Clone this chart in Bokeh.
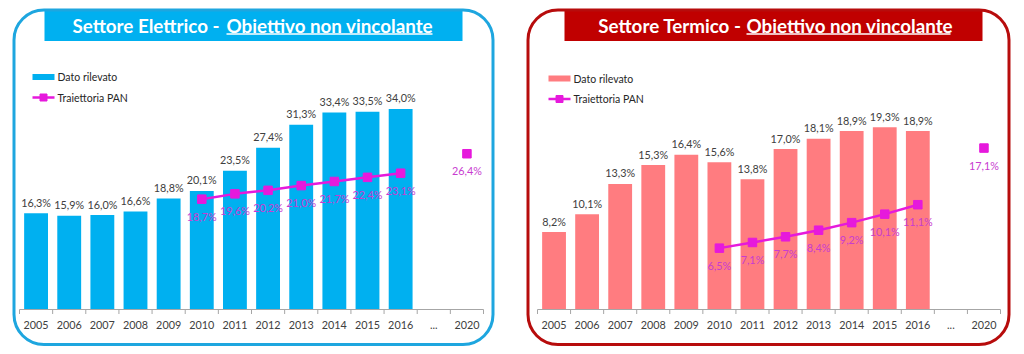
from bokeh.plotting import figure
from bokeh.models import Range1d, BoxAnnotation
from bokeh.layouts import row
from bokeh.embed import file_html
from bokeh.resources import INLINE
from bokeh.core.properties import value

# ---------------- data ----------------
categories = ["2005", "2006", "2007", "2008", "2009", "2010", "2011", "2012",
              "2013", "2014", "2015", "2016", "...", "2020"]
observed_years = categories[:12]
pan_years = ["2010", "2011", "2012", "2013", "2014", "2015", "2016"]
target_year = "2020"

elettrico_rilevato = [16.3, 15.9, 16.0, 16.6, 18.8, 20.1, 23.5, 27.4, 31.3, 33.4, 33.5, 34.0]
elettrico_pan = [18.7, 19.6, 20.2, 21.0, 21.7, 22.4, 23.1]
elettrico_target = 26.4

termico_rilevato = [8.2, 10.1, 13.3, 15.3, 16.4, 15.6, 13.8, 17.0, 18.1, 18.9, 19.3, 18.9]
termico_pan = [6.5, 7.1, 7.7, 8.4, 9.2, 10.1, 11.1]
termico_target = 17.1

legend_labels = ["Dato rilevato", "Traiettoria PAN"]

# ---------------- layout constants ----------------
W, H = 512, 354
BASE_PX, TOP_PX = 309, 73
FONT = value("Lato")
LABEL_COLOR = "#404040"
LINE_COLOR = "#e619dc"
PAN_LABEL_COLOR = "#c83cd0"


def fmt(v):
    return ("%.1f" % v).replace(".", ",") + "%"


def make_panel(title_a, title_b, rilevato, pan, target, ymax, cfg):
    cw = (cfg["axis_r"] - cfg["axis_l"]) / len(categories)
    xs = -cfg["axis_l"] / cw - 0.5
    ppu = (BASE_PX - TOP_PX) / ymax
    ys = -(H - BASE_PX) / ppu
    p = figure(width=W, height=H,
               x_range=Range1d(xs, xs + W / cw),
               y_range=Range1d(ys, ys + H / ppu),
               x_axis_type=None, y_axis_type=None,
               toolbar_location=None, output_backend="svg",
               min_border=0, min_border_left=0, min_border_right=0,
               min_border_top=0, min_border_bottom=0)
    p.extra_x_ranges = {"px": Range1d(0, W)}
    p.extra_y_ranges = {"px": Range1d(H, 0)}
    p.xgrid.visible = False
    p.ygrid.visible = False
    p.outline_line_color = None
    p.background_fill_color = "white"
    p.border_fill_color = "white"

    idx = {c: i for i, c in enumerate(categories)}

    # rounded frame
    p.add_layout(BoxAnnotation(left=cfg["bl"], right=cfg["br"], top=9.5, bottom=344,
                               x_range_name="px", y_range_name="px",
                               fill_color=None, fill_alpha=0,
                               line_color=cfg["border"], line_alpha=1.0, line_width=3,
                               border_radius=30))
    # title box
    p.quad(left=[cfg["tb_l"]], right=[cfg["tb_r"]], top=[9], bottom=[40.5],
           x_range_name="px", y_range_name="px",
           fill_color=cfg["title_fill"], line_color=None)
    p.text(x=[cfg["t_end"]], y=[25], text=[title_a], x_range_name="px", y_range_name="px",
           text_font=FONT, text_font_size="18.8px", text_font_style="bold",
           text_color="white", text_align="right", text_baseline="middle")
    p.text(x=[cfg["t_start"]], y=[25], text=[title_b], x_range_name="px", y_range_name="px",
           text_font=FONT, text_font_size="18.8px", text_font_style="bold",
           text_color="white", text_align="left", text_baseline="middle")
    p.segment(x0=[cfg["t_start"]], x1=[cfg["u_end"]], y0=[33.5], y1=[33.5],
              x_range_name="px", y_range_name="px", line_color="white", line_width=1.5)

    # legend
    lx, ly = cfg["leg_x"], cfg["leg_y"]
    p.quad(left=[lx], right=[lx + 22], top=[ly - 3], bottom=[ly + 3],
           x_range_name="px", y_range_name="px", fill_color=cfg["bar"], line_color=None)
    p.segment(x0=[lx], x1=[lx + 22], y0=[ly + 20.5], y1=[ly + 20.5],
              x_range_name="px", y_range_name="px", line_color=LINE_COLOR, line_width=2.5)
    p.scatter(x=[lx + 11], y=[ly + 20.5], marker="square", size=7,
              x_range_name="px", y_range_name="px", fill_color=LINE_COLOR, line_color=LINE_COLOR)
    p.text(x=[lx + 25, lx + 25], y=[ly, ly + 20.5], text=legend_labels,
           x_range_name="px", y_range_name="px",
           text_font=FONT, text_font_size="10.5px", text_color="#262626",
           text_align="left", text_baseline="middle")

    # bars
    bx = [idx[c] for c in observed_years]
    p.vbar(x=bx, top=rilevato, bottom=0, width=0.72, fill_color=cfg["bar"], line_color=None)
    p.text(x=bx, y=rilevato, text=[fmt(v) for v in rilevato], y_offset=-11,
           text_font=FONT, text_font_size="10.8px", text_color=LABEL_COLOR,
           text_align="center", text_baseline="middle")

    # PAN trajectory
    px_ = [idx[c] for c in pan_years]
    p.line(x=px_, y=pan, line_color=LINE_COLOR, line_width=2.5)
    tx = [idx[target_year]]
    p.scatter(x=px_ + tx, y=pan + [target], marker="square", size=8.5,
              fill_color=LINE_COLOR, line_color=LINE_COLOR)
    p.text(x=px_ + tx, y=pan + [target], text=[fmt(v) for v in pan + [target]], y_offset=17,
           text_font=FONT, text_font_size="10.8px", text_color=PAN_LABEL_COLOR,
           text_align="center", text_baseline="middle")

    # category axis
    n = len(categories)
    bounds = [i - 0.5 for i in range(n + 1)]
    p.segment(x0=[-0.5], x1=[n - 0.5], y0=[BASE_PX], y1=[BASE_PX], y_range_name="px",
              line_color="#a6a6a6", line_width=1)
    p.segment(x0=bounds, x1=bounds, y0=[BASE_PX] * len(bounds), y1=[BASE_PX + 4.5] * len(bounds),
              y_range_name="px", line_color="#a6a6a6", line_width=1)
    p.text(x=list(range(n)), y=[324] * n, text=categories, y_range_name="px",
           text_font=FONT, text_font_size="10.8px", text_color=LABEL_COLOR,
           text_align="center", text_baseline="middle")
    return p


left_cfg = dict(axis_l=19, axis_r=483, bl=13.5, br=492.5, tb_l=44, tb_r=462,
                t_end=219, t_start=226, u_end=432, leg_x=32, leg_y=76.5,
                border="#1ea6df", title_fill="#00b0f0", bar="#00b0f0")
right_cfg = dict(axis_l=25, axis_r=488, bl=15.5, br=496.5, tb_l=52, tb_r=470,
                 t_end=229, t_start=234, u_end=438, leg_x=36, leg_y=78,
                 border="#b70c0c", title_fill="#c00000", bar="#ff7c80")

p1 = make_panel("Settore Elettrico -", "Obiettivo non vincolante",
                elettrico_rilevato, elettrico_pan, elettrico_target, 40, left_cfg)
p2 = make_panel("Settore Termico -", "Obiettivo non vincolante",
                termico_rilevato, termico_pan, termico_target, 25, right_cfg)

layout = row(p1, p2, spacing=0)
open("out.html", "w").write(file_html(layout, INLINE))
